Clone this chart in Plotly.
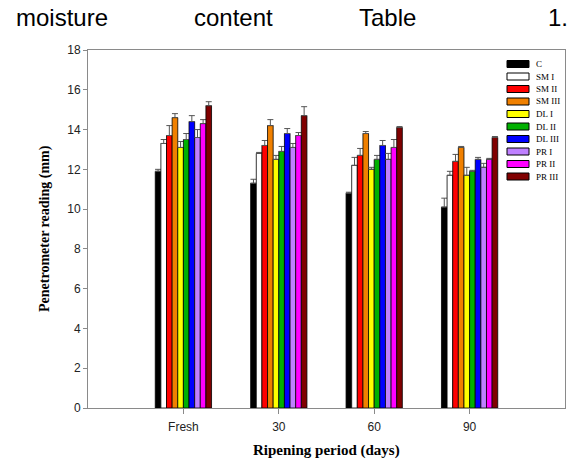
import plotly.graph_objects as go

periods = ["Fresh", "30", "60", "90"]
series = ["C", "SM I", "SM II", "SM III", "DL I", "DL II", "DL III", "PR I", "PR II", "PR III"]
colors = ["#000000", "#ffffff", "#ff0000", "#f08000", "#ffff00", "#00b000",
          "#0000ff", "#bf80ff", "#ff00ff", "#800000"]

values = {
    "C":      [11.9, 11.3, 10.8, 10.1],
    "SM I":   [13.3, 12.8, 12.2, 11.7],
    "SM II":  [13.7, 13.2, 12.7, 12.4],
    "SM III": [14.6, 14.2, 13.8, 13.1],
    "DL I":   [13.1, 12.5, 12.0, 11.7],
    "DL II":  [13.5, 12.9, 12.5, 11.9],
    "DL III": [14.4, 13.8, 13.2, 12.5],
    "PR I":   [13.6, 13.1, 12.5, 12.1],
    "PR II":  [14.3, 13.7, 13.1, 12.5],
    "PR III": [15.2, 14.7, 14.1, 13.6],
}
errors = {
    "C":      [0.10, 0.20, 0.05, 0.45],
    "SM I":   [0.20, 0.05, 0.40, 0.20],
    "SM II":  [0.50, 0.25, 0.35, 0.35],
    "SM III": [0.20, 0.30, 0.10, 0.05],
    "DL I":   [0.30, 0.20, 0.10, 0.40],
    "DL II":  [0.30, 0.25, 0.20, 0.05],
    "DL III": [0.30, 0.25, 0.25, 0.10],
    "PR I":   [0.40, 0.20, 0.30, 0.20],
    "PR II":  [0.20, 0.15, 0.40, 0.05],
    "PR III": [0.20, 0.45, 0.05, 0.05],
}
yticks = list(range(0, 19, 2))
x_title = "Ripening period (days)"
y_title = "Penetrometer reading (mm)"
header_words = ["moisture", "content", "Table", "1."]

SERIF = "Liberation Serif, Times New Roman, serif"
SANS = "Liberation Sans, Arial, sans-serif"

W, H = 574, 463
L, R, T, B = 88, 9, 50, 55
PW, PH = W - L - R, H - T - B

def px_x(px):
    return (px - L) / PW

def px_y(py):
    return (H - B - py) / PH

fig = go.Figure()
for name, col in zip(series, colors):
    fig.add_trace(go.Bar(
        x=periods, y=values[name], name=name,
        marker=dict(color=col, line=dict(color="#000000", width=0.8)),
        error_y=dict(type="data", symmetric=False, array=errors[name],
                     arrayminus=[0] * len(periods), color="#555555",
                     thickness=1, width=3),
        showlegend=False,
    ))

shapes = []
annotations = []
# manual legend
for i, (name, col) in enumerate(zip(series, colors)):
    cy = 64 + 12.5 * i
    shapes.append(dict(type="rect", xref="paper", yref="paper",
                       x0=px_x(507), x1=px_x(529), y0=px_y(cy + 3.5), y1=px_y(cy - 3.5),
                       fillcolor=col, line=dict(color="#000000", width=1)))
    annotations.append(dict(xref="paper", yref="paper", x=px_x(534), y=px_y(cy),
                            text=name, showarrow=False, xanchor="left", yanchor="middle",
                            font=dict(family=SERIF, size=9, color="#000000")))

# header text line
header_x = [14, 192, 357, 546]
for word, hx in zip(header_words, header_x):
    annotations.append(dict(xref="paper", yref="paper", x=px_x(hx), y=px_y(17),
                            text=word, showarrow=False, xanchor="left", yanchor="middle",
                            font=dict(family=SANS, size=24, color="#000000")))

# axis titles
annotations.append(dict(xref="paper", yref="paper", x=0.5, y=px_y(450), text="<b>%s</b>" % x_title,
                        showarrow=False, xanchor="center", yanchor="middle",
                        font=dict(family=SERIF, size=15, color="#000000")))
annotations.append(dict(xref="paper", yref="paper", x=px_x(45), y=0.5, text="<b>%s</b>" % y_title,
                        showarrow=False, xanchor="center", yanchor="middle", textangle=-90,
                        font=dict(family=SERIF, size=14, color="#000000")))

fig.update_layout(
    width=W, height=H,
    margin=dict(l=L, r=R, t=T, b=B),
    paper_bgcolor="white", plot_bgcolor="white",
    barmode="group", bargap=0.41, bargroupgap=0,
    shapes=shapes, annotations=annotations,
    xaxis=dict(type="category", range=[-1, 4], showgrid=False, zeroline=False,
               showline=True, linecolor="#8a8a8a", linewidth=1, mirror=True,
               ticks="outside", ticklen=5, tickcolor="#8a8a8a",
               tickfont=dict(family=SANS, size=12, color="#222222"), ticklabelstandoff=3),
    yaxis=dict(range=[0, 18], tickvals=yticks, showgrid=False, zeroline=False,
               showline=True, linecolor="#8a8a8a", linewidth=1, mirror=True,
               ticks="outside", ticklen=4, tickcolor="#8a8a8a",
               tickfont=dict(family=SANS, size=12, color="#222222")),
)

fig.write_html("out.html", config={"displayModeBar": False},
               post_script="document.body.style.margin='0';document.body.style.overflow='hidden';")
